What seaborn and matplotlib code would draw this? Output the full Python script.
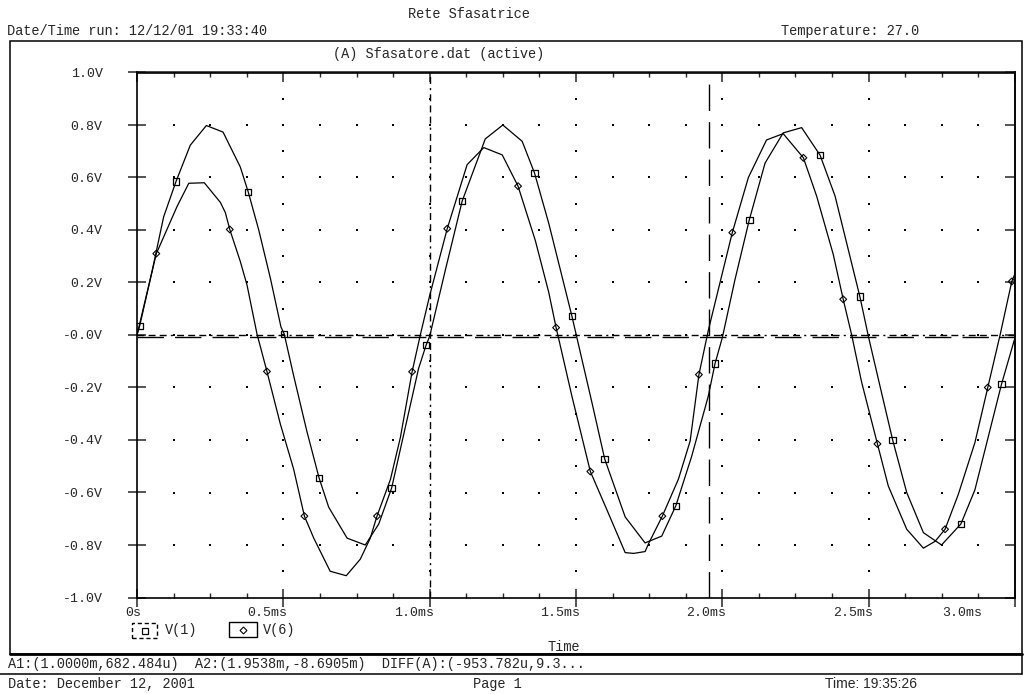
import numpy as np
import pandas as pd
import matplotlib
matplotlib.use("Agg")
import matplotlib.pyplot as plt
import matplotlib.transforms as mtransforms
from matplotlib.lines import Line2D
from matplotlib.patches import Rectangle
import seaborn as sns

# --- data (time in ms, voltage in V) ---
t_v1 = [0.0, 0.009, 0.051, 0.091, 0.133, 0.182, 0.237, 0.294, 0.353, 0.38, 0.416, 0.456,
        0.492, 0.503, 0.535, 0.58, 0.622, 0.655, 0.718, 0.78, 0.826, 0.87, 0.922, 0.962,
        0.988, 1.0, 1.055, 1.111, 1.19, 1.25, 1.316, 1.358, 1.407, 1.486, 1.503, 1.555,
        1.598, 1.668, 1.736, 1.793, 1.841, 1.895, 1.952, 1.975, 2.0, 2.043, 2.092, 2.146,
        2.208, 2.271, 2.334, 2.385, 2.47, 2.5, 2.544, 2.582, 2.63, 2.687, 2.749, 2.815,
        2.863, 2.954, 3.0]
v1 = [0.0, 0.034, 0.24, 0.45, 0.584, 0.723, 0.798, 0.773, 0.64, 0.545, 0.40, 0.215,
      0.03, 0.004, -0.154, -0.365, -0.544, -0.656, -0.774, -0.80, -0.72, -0.583, -0.326, -0.128,
      -0.038, -0.005, 0.254, 0.51, 0.747, 0.80, 0.738, 0.618, 0.425, 0.072, -0.01, -0.26,
      -0.472, -0.693, -0.792, -0.766, -0.651, -0.463, -0.233, -0.109, -0.01, 0.21, 0.438, 0.655,
      0.77, 0.79, 0.685, 0.53, 0.146, -0.01, -0.22, -0.40, -0.60, -0.753, -0.80, -0.72,
      -0.59, -0.187, -0.01]

t_v6 = [0.0, 0.066, 0.137, 0.177, 0.23, 0.285, 0.302, 0.317, 0.353, 0.376, 0.41, 0.444,
        0.49, 0.535, 0.572, 0.604, 0.66, 0.715, 0.763, 0.797, 0.82, 0.866, 0.9, 0.94,
        0.968, 1.0, 1.06, 1.128, 1.185, 1.248, 1.302, 1.361, 1.407, 1.432, 1.44, 1.486,
        1.549, 1.606, 1.668, 1.697, 1.736, 1.75, 1.795, 1.85, 1.89, 1.92, 1.952, 1.975,
        2.034, 2.089, 2.151, 2.208, 2.277, 2.322, 2.379, 2.413, 2.442, 2.476, 2.53, 2.567,
        2.63, 2.687, 2.727, 2.761, 2.806, 2.863, 2.907, 2.949, 2.989, 3.0]
v6 = [0.0, 0.31, 0.49, 0.578, 0.58, 0.505, 0.466, 0.402, 0.28, 0.19, 0.004, -0.139,
      -0.34, -0.51, -0.69, -0.774, -0.90, -0.917, -0.854, -0.774, -0.69, -0.55, -0.39, -0.14,
      0.0, 0.15, 0.405, 0.649, 0.714, 0.686, 0.567, 0.36, 0.162, 0.028, -0.01, -0.233,
      -0.52, -0.667, -0.829, -0.832, -0.825, -0.79, -0.69, -0.549, -0.404, -0.151, 0.017, 0.122,
      0.39, 0.6, 0.743, 0.767, 0.675, 0.53, 0.307, 0.136, 0.0, -0.18, -0.415, -0.575,
      -0.74, -0.812, -0.786, -0.74, -0.608, -0.41, -0.2, 0.0, 0.204, 0.234]

# marker (symbol) positions
mk_t_v1 = [0.009, 0.133, 0.38, 0.503, 0.622, 0.87, 0.988, 1.111, 1.358, 1.486, 1.598,
           1.841, 1.975, 2.092, 2.334, 2.47, 2.582, 2.815, 2.954]
mk_v_v1 = [0.034, 0.584, 0.545, 0.004, -0.544, -0.583, -0.038, 0.51, 0.618, 0.072, -0.472,
           -0.651, -0.109, 0.438, 0.685, 0.146, -0.40, -0.72, -0.187]
mk_t_v6 = [0.066, 0.317, 0.444, 0.572, 0.82, 0.94, 1.06, 1.302, 1.432, 1.549, 1.795,
           1.92, 2.034, 2.277, 2.413, 2.53, 2.761, 2.907, 2.989]
mk_v_v6 = [0.31, 0.402, -0.139, -0.69, -0.69, -0.14, 0.405, 0.567, 0.028, -0.52, -0.69,
           -0.151, 0.39, 0.675, 0.136, -0.415, -0.74, -0.2, 0.204]

# cursors
cursor_a1 = (1.0, 682.484e-6)
cursor_a2 = (1.9538, -8.6905e-3)

x_ticks = [0.0, 0.5, 1.0, 1.5, 2.0, 2.5, 3.0]
x_labels = ["0s", "0.5ms", "1.0ms", "1.5ms", "2.0ms", "2.5ms", "3.0ms"]
y_ticks = [1.0, 0.8, 0.6, 0.4, 0.2, 0.0, -0.2, -0.4, -0.6, -0.8, -1.0]
y_labels = ["1.0V", "0.8V", "0.6V", "0.4V", "0.2V", "-0.0V", "-0.2V", "-0.4V",
            "-0.6V", "-0.8V", "-1.0V"]

sns.set_style("white")
MONO = ["Liberation Mono", "DejaVu Sans Mono"]
plt.rcParams["font.family"] = MONO

W, H = 1024, 694
fig = plt.figure(figsize=(W / 100, H / 100), dpi=100)


def fx(x):
    return x / W


def fy(y):
    return 1 - y / H


ax = fig.add_axes([fx(137), fy(597.5), (1015 - 137) / W, (597.5 - 72.5) / H])

df1 = pd.DataFrame({"t": t_v1, "v": v1})
df6 = pd.DataFrame({"t": t_v6, "v": v6})
sns.lineplot(data=df1, x="t", y="v", color="black", lw=0.9, ax=ax, sort=False)
sns.lineplot(data=df6, x="t", y="v", color="black", lw=0.9, ax=ax, sort=False)
sns.scatterplot(x=mk_t_v1, y=mk_v_v1, marker="s", s=22, facecolor="none",
                edgecolor="black", linewidth=0.9, ax=ax, zorder=4)
sns.scatterplot(x=mk_t_v6, y=mk_v_v6, marker="D", s=12, facecolor="none",
                edgecolor="black", linewidth=0.8, ax=ax, zorder=4)

# dotted grid (dots, like the PSpice probe window)
gx = np.arange(1, 24) * 0.125
gy = np.arange(-4, 5) * 0.2
GX, GY = np.meshgrid(gx, gy)
cx = np.array([0.5, 1.0, 1.5, 2.0, 2.5])
cy = np.arange(-9, 10) * 0.1
CX, CY = np.meshgrid(cx, cy)
ax.scatter(np.r_[GX.ravel(), CX.ravel()], np.r_[GY.ravel(), CY.ravel()],
           s=1.2, marker="s", color="black", linewidths=0, zorder=1)

# cursors
short_dd = (0, (5, 3, 5, 3, 5, 3, 1.5, 3))
long_d = (0, (19, 8))
ax.axhline(cursor_a1[1], color="black", lw=1, ls=short_dd, zorder=2)
ax.axvline(cursor_a1[0], color="black", lw=1, ls=short_dd, zorder=2)
ax.axhline(cursor_a2[1], color="black", lw=1, ls=long_d, zorder=2)
ax.axvline(cursor_a2[0], color="black", lw=1, ls=long_d, zorder=2)

ax.set_xlim(0, 3.0)
ax.set_ylim(-1.0, 1.0)
ax.set_xlabel("")
ax.set_ylabel("")

for s in ax.spines.values():
    s.set_linewidth(1.2)
    s.set_color("black")

ax.set_xticks(x_ticks)
ax.set_xticklabels(x_labels)
ax.set_xticks(np.arange(0, 25) * 0.125, minor=True)
ax.set_yticks(y_ticks)
ax.set_yticklabels(y_labels)
ax.tick_params(axis="x", which="major", direction="inout", length=13, width=1.1,
               pad=0, labelsize=9.5, bottom=True, top=False)
ax.tick_params(axis="x", which="minor", direction="in", length=3.6, width=1,
               bottom=True, top=False)
ax.tick_params(axis="y", which="major", direction="inout", length=13.5, width=1.1,
               pad=18, labelsize=9.5, left=True, right=False)

# shift x labels so their right end sits just past the tick (PSpice style)
for i, lab in enumerate(ax.get_xticklabels()):
    lab.set_ha("right")
    dx = 4 / 100 if i < len(x_labels) - 1 else -33 / 100
    lab.set_transform(lab.get_transform() +
                      mtransforms.ScaledTranslation(dx, 0, fig.dpi_scale_trans))

top = ax.secondary_xaxis("top")
top.set_xticks(x_ticks)
top.set_xticks(np.arange(0, 25) * 0.125, minor=True)
top.tick_params(which="major", direction="in", length=7.5, width=1.1, labeltop=False)
top.tick_params(which="minor", direction="in", length=3.6, width=1)
top.spines["top"].set_linewidth(1.2)
right = ax.secondary_yaxis("right")
right.set_yticks(y_ticks)
right.tick_params(which="major", direction="in", length=7.5, width=1.1, labelright=False)
right.spines["right"].set_linewidth(1.2)

# outer window frame
fig.add_artist(Rectangle((fx(10), fy(654)), fx(1022) - fx(10), fy(41) - fy(654),
                         transform=fig.transFigure, fill=False, lw=1.1, ec="black"))
fig.add_artist(Line2D([fx(10), fx(1022)], [fy(654), fy(654)], transform=fig.transFigure,
                      color="black", lw=2))
fig.add_artist(Line2D([fx(0), fx(1022)], [fy(674), fy(674)], transform=fig.transFigure,
                      color="black", lw=1.1))
fig.add_artist(Line2D([fx(1022), fx(1022)], [fy(654), fy(674)], transform=fig.transFigure,
                      color="black", lw=1.1))

# legend boxes
fig.add_artist(Rectangle((fx(132), fy(638)), fx(157) - fx(132), fy(623) - fy(638),
                         transform=fig.transFigure, fill=False, lw=1, ec="black",
                         ls=(0, (3, 2))))
fig.add_artist(Line2D([fx(144.5)], [fy(630.5)], transform=fig.transFigure, marker="s",
                      ms=5, mfc="none", mec="black", mew=0.9))
fig.add_artist(Rectangle((fx(229), fy(637)), fx(257) - fx(229), fy(622) - fy(637),
                         transform=fig.transFigure, fill=False, lw=1, ec="black"))
fig.add_artist(Line2D([fx(243)], [fy(629.5)], transform=fig.transFigure, marker="D",
                      ms=3.5, mfc="none", mec="black", mew=0.8))

# texts
def ftext(x, y, s, **kw):
    kw.setdefault("fontsize", 9.8)
    fig.text(fx(x), fy(y), s, va="center", ha="left", **kw)


ftext(408, 14, "Rete Sfasatrice")
ftext(7, 31, "Date/Time run: 12/12/01 19:33:40")
ftext(781, 31, "Temperature: 27.0")
ftext(333, 54, "(A) Sfasatore.dat (active)")
ftext(165, 630, "V(1)")
ftext(263, 630, "V(6)")
ftext(547, 647, "Time")
ftext(8, 664, "A1:(1.0000m,682.484u)  A2:(1.9538m,-8.6905m)  DIFF(A):(-953.782u,9.3...")
ftext(8, 684, "Date: December 12, 2001")
ftext(473, 684, "Page 1")
ftext(825, 684, "Time: 19:35:26", family=["Liberation Sans", "DejaVu Sans"], fontsize=10)

fig.savefig("out.png", dpi=100, facecolor="white")
